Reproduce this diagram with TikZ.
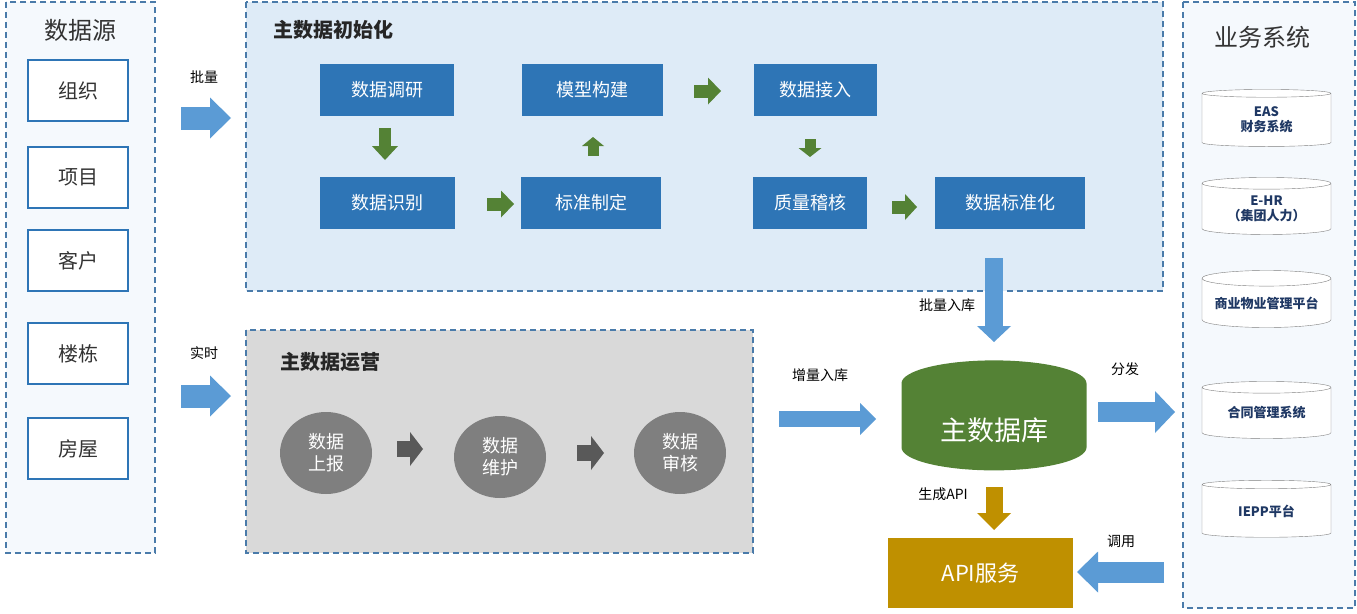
\documentclass[tikz,border=0pt]{standalone}
\usepackage{fontspec}
\setmainfont{Noto Sans CJK SC}
\usetikzlibrary{shapes.geometric,arrows.meta}

\definecolor{frameblue}{HTML}{4A7BAA}
\definecolor{panelblue}{HTML}{DEEBF7}
\definecolor{panelgray}{HTML}{D9D9D9}
\definecolor{paleblue}{HTML}{F5F9FD}
\definecolor{boxblue}{HTML}{2E75B6}
\definecolor{arrowblue}{HTML}{5B9BD5}
\definecolor{stepgreen}{HTML}{548235}
\definecolor{opgray}{HTML}{7F7F7F}
\definecolor{darkgray}{HTML}{595959}
\definecolor{apigold}{HTML}{BF9000}
\definecolor{textgray}{HTML}{333333}
\definecolor{navy}{HTML}{1F3864}

\tikzset{
    frame/.style={draw=frameblue, line width=1.4pt, dash pattern=on 6pt off 4pt},
    srcbox/.style={draw=boxblue, line width=1.6pt, fill=white, minimum width=100pt,
        minimum height=61pt, text=textgray, font=\fontsize{20}{24}\selectfont},
    stepbox/.style={fill=boxblue, text=white, minimum height=52pt, font=\fontsize{18}{22}\selectfont},
    opcircle/.style={ellipse, fill=opgray, text=white, minimum width=92pt, minimum height=82pt,
        inner sep=0pt, align=center, font=\fontsize{18}{22}\selectfont},
    sysdb/.style={cylinder, shape border rotate=90, draw=gray, fill=white, minimum width=129pt,
        minimum height=57pt, aspect=0.15, align=center, text=navy, inner sep=0pt,
        font=\bfseries\fontsize{13}{15}\selectfont},
    tag/.style={text=black, font=\fontsize{14}{16}\selectfont},
    title/.style={text=textgray, font=\fontsize{24}{28}\selectfont},
    panetitle/.style={anchor=west, text=black!85, font=\bfseries\fontsize{20}{24}\selectfont},
    block/.style n args={4}{draw=#1, line width=#2, -{Triangle[width=#3, length=#4, line width=0pt]}}
}

\begin{document}
\begin{tikzpicture}[x=1pt, y=-1pt]
            \useasboundingbox (0,0) rectangle (1357,613);

            % panels
            \draw[frame, fill=paleblue] (6,2) rectangle (155,553);
            \draw[frame, fill=panelblue] (246,2) rectangle (1163,291);
            \draw[frame, fill=panelgray] (246,330) rectangle (753,553);
            \draw[frame, fill=paleblue] (1183,2) rectangle (1355,608);

            % data sources
            \node[title] (src) at (80,30) {数据源};
            \node[srcbox] (org) at (78,90.5) {组织};
            \node[srcbox] (proj) at (78,177.5) {项目};
            \node[srcbox] (cust) at (78,260.5) {客户};
            \node[srcbox] (bldg) at (78,353.5) {楼栋};
            \node[srcbox] (room) at (78,448.5) {房屋};

            % initialisation
            \node[panetitle] (init) at (270,30) {主数据初始化};
            \node[stepbox, minimum width=134pt] (survey) at (387,90) {数据调研};
            \node[stepbox, minimum width=141pt] (model) at (592,90) {模型构建};
            \node[stepbox, minimum width=123pt] (access) at (815,90) {数据接入};
            \node[stepbox, minimum width=135pt] (ident) at (387,203) {数据识别};
            \node[stepbox, minimum width=140pt] (std) at (591,203) {标准制定};
            \node[stepbox, minimum width=114pt] (audit) at (810,203) {质量稽核};
            \node[stepbox, minimum width=150pt] (norm) at (1010,203) {数据标准化};

            \coordinate (s1) at (385,128);  \coordinate (t1) at (385,160);
            \coordinate (s2) at (487,204);  \coordinate (t2) at (514,204);
            \coordinate (s3) at (593,156);  \coordinate (t3) at (593,137);
            \coordinate (s4) at (694,91);   \coordinate (t4) at (721,91);
            \coordinate (s5) at (810,139);  \coordinate (t5) at (810,157);
            \coordinate (s6) at (892,207);  \coordinate (t6) at (917,207);
            \draw[block={stepgreen}{12pt}{26pt}{14pt}] (s1) -- (t1);
            \draw[block={stepgreen}{13pt}{27pt}{13pt}] (s2) -- (t2);
            \draw[block={stepgreen}{11pt}{22pt}{9pt}] (s3) -- (t3);
            \draw[block={stepgreen}{13pt}{27pt}{13pt}] (s4) -- (t4);
            \draw[block={stepgreen}{11pt}{23pt}{9pt}] (s5) -- (t5);
            \draw[block={stepgreen}{13pt}{26pt}{12pt}] (s6) -- (t6);

            % operation
            \node[panetitle] (ops) at (277,362) {主数据运营};
            \node[opcircle] (report) at (326,453) {数据\\上报};
            \node[opcircle] (maint) at (500,457) {数据\\维护};
            \node[opcircle] (review) at (680,453) {数据\\审核};
            \coordinate (g1) at (397,449);  \coordinate (h1) at (423,449);
            \coordinate (g2) at (577,453);  \coordinate (h2) at (604,453);
            \draw[block={darkgray}{16pt}{34pt}{13pt}] (g1) -- (h1);
            \draw[block={darkgray}{16pt}{34pt}{13pt}] (g2) -- (h2);

            % master data
            \node[cylinder, shape border rotate=90, fill=stepgreen, minimum width=185pt, minimum height=110pt,
                aspect=0.4, text=white, font=\fontsize{27}{30}\selectfont] (mdm) at (994,430) {主数据库};
            \node[fill=apigold, minimum width=185pt, minimum height=70pt, text=white,
                font=\fontsize{22}{26}\selectfont] (api) at (980.5,573) {API服务};

            % business systems
            \node[title] (biz) at (1262,37) {业务系统};
            \node[sysdb] (eas) at (1266.5,120) {EAS\\财务系统};
            \node[sysdb] (ehr) at (1266.5,209) {E-HR\\（集团人力）};
            \node[sysdb] (prop) at (1266.5,303) {商业物业管理平台};
            \node[sysdb] (cont) at (1266.5,413) {合同管理系统};
            \node[sysdb] (iepp) at (1266.5,511) {IEPP平台};

            % flows
            \coordinate (b1) at (181,118);   \coordinate (c1) at (231,118);
            \coordinate (b2) at (181,396);   \coordinate (c2) at (231,396);
            \coordinate (b3) at (994,258);   \coordinate (c3) at (994,342);
            \coordinate (b4) at (779,419);   \coordinate (c4) at (876,419);
            \coordinate (b5) at (1098,412);  \coordinate (c5) at (1175,412);
            \coordinate (b6) at (994,487);   \coordinate (c6) at (994,530);
            \coordinate (b7) at (1164,572);  \coordinate (c7) at (1077,572);
            \draw[block={arrowblue}{23pt}{41pt}{21pt}] (b1) -- (c1);
            \draw[block={arrowblue}{23pt}{41pt}{21pt}] (b2) -- (c2);
            \draw[block={arrowblue}{18pt}{34pt}{16pt}] (b3) -- (c3);
            \draw[block={arrowblue}{16pt}{32pt}{16pt}] (b4) -- (c4);
            \draw[block={arrowblue}{20pt}{42pt}{20pt}] (b5) -- (c5);
            \draw[block={apigold}{17pt}{34pt}{17pt}] (b6) -- (c6);
            \draw[block={arrowblue}{21pt}{41pt}{21pt}] (b7) -- (c7);

            \node[tag] (l1) at (204,77) {批量};
            \node[tag] (l2) at (204,353) {实时};
            \node[tag] (l3) at (947,305) {批量入库};
            \node[tag] (l4) at (820,375) {增量入库};
            \node[tag] (l5) at (1125,369) {分发};
            \node[tag] (l6) at (943,494) {生成API};
            \node[tag] (l7) at (1121,541) {调用};
\end{tikzpicture}
\end{document}
